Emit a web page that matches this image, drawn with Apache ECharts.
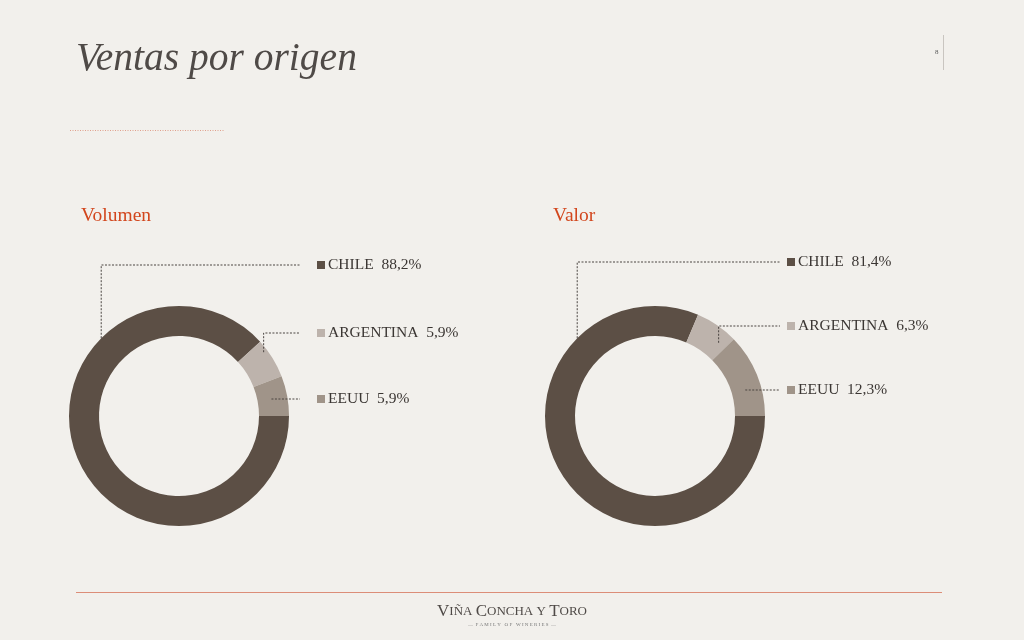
<!DOCTYPE html>
<html>
<head>
<meta charset="utf-8">
<script src="https://cdn.jsdelivr.net/npm/echarts@6/dist/echarts.min.js"></script>
<style>
html,body{margin:0;padding:0;background:#f2f0ec;}
#c{width:1024px;height:640px;}
</style>
</head>
<body>
<div id="c"></div>
<script>
// ---- data ----
const categories = ['CHILE', 'ARGENTINA', 'EEUU'];
const volumenValues = [88.2, 5.9, 5.9];
const valorValues = [81.4, 6.3, 12.3];
const panelTitles = ['Volumen', 'Valor'];
const sliceColors = ['#5c4f45', '#bdb3ac', '#a09489'];

// ---- layout (styles / positions) ----
const panels = [
  { center: [179, 416], labelX: 317, lineEnd: 300, labelY: [265, 333, 399], anchorAngle: [135, 37, 10.4], anchorR: [110, 106, 94], titleX: 81, values: volumenValues },
  { center: [655, 416], labelX: 787, lineEnd: 780, labelY: [262, 326, 390], anchorAngle: [135, 49, 16.1], anchorR: [110, 97, 94], titleX: 553, values: valorValues }
];
const R_IN = 80, R_OUT = 110;
const SERIF = '"Liberation Serif", "DejaVu Serif", serif';

function fmt(v) { return v.toFixed(1).replace('.', ',') + '%'; }

const rich = { n: { fontFamily: SERIF, fontSize: 15.5, color: '#3b3633', padding: [0, 0, 0, 3] } };
sliceColors.forEach((c, i) => { rich['sq' + i] = { width: 8, height: 8, backgroundColor: c }; });

const series = [];
panels.forEach((p, si) => {
  const base = {
    type: 'pie',
    center: p.center,
    radius: [R_IN, R_OUT],
    startAngle: 0,
    clockwise: true,
    avoidLabelOverlap: false,
    silent: true,
    emphasis: { disabled: true }
  };
  // donut ring
  series.push(Object.assign({}, base, {
    z: 2,
    data: categories.map((name, i) => ({ name: name, value: p.values[i], itemStyle: { color: sliceColors[i] } })),
    label: { show: false },
    labelLine: { show: false }
  }));
  // overlay carrying labels and leader lines (drawn above the ring)
  series.push(Object.assign({}, base, {
    z: 5,
    data: categories.map((name, i) => ({ name: name, value: p.values[i], itemStyle: { color: 'rgba(0,0,0,0)' } })),
    label: {
      show: true,
      position: 'outside',
      formatter: (d) => '{sq' + d.dataIndex + '|}{n|' + d.name + '  ' + fmt(d.value) + '}',
      rich: rich
    },
    labelLine: { show: true, smooth: false, lineStyle: { color: '#4a4440', width: 1, type: [2, 1.5] } },
    labelLayout: (params) => {
      const i = params.dataIndex;
      const ang = p.anchorAngle[i] * Math.PI / 180;
      const r = p.anchorR[i];
      const ax = p.center[0] + r * Math.cos(ang);
      const ay = p.center[1] - r * Math.sin(ang);
      const ly = p.labelY[i];
      return {
        x: p.labelX, y: ly, align: 'left', verticalAlign: 'middle',
        labelLinePoints: [[ax, ay], [ax, ly], [p.lineEnd, ly]]
      };
    }
  }));
});

const graphic = [
  { type: 'text', left: 76, top: 40, style: { text: 'Ventas por origen', font: 'italic 39.5px ' + SERIF, fill: '#4f4a47' } },
  { type: 'line', shape: { x1: 70, y1: 130.5, x2: 225, y2: 130.5 }, style: { stroke: '#e0a08c', lineWidth: 1, lineDash: [1, 1.5] } },
  { type: 'line', shape: { x1: 943.5, y1: 35, x2: 943.5, y2: 70 }, style: { stroke: '#c9c5c0', lineWidth: 1 } },
  { type: 'text', left: 935, top: 49, style: { text: '8', font: '7px ' + SERIF, fill: '#555' } },
  { type: 'line', shape: { x1: 76, y1: 592.5, x2: 942, y2: 592.5 }, style: { stroke: '#dc8d78', lineWidth: 1 } },
  { type: 'text', left: 'center', top: 603, style: {
      text: '{b|V}{s|IÑA }{b|C}{s|ONCHA Y }{b|T}{s|ORO}',
      rich: { b: { fontFamily: SERIF, fontSize: 17, fill: '#4f4a47' }, s: { fontFamily: SERIF, fontSize: 13, fill: '#4f4a47' } } } },
  { type: 'text', left: 'center', top: 622, style: { text: '—  F A M I L Y   O F   W I N E R I E S  —', font: '5px ' + SERIF, fill: '#777' } }
];
panels.forEach((p, si) => {
  graphic.push({ type: 'text', left: p.titleX, top: 206, style: { text: panelTitles[si], font: '19.5px ' + SERIF, fill: '#d2461d' } });
});

const chart = echarts.init(document.getElementById('c'));
chart.setOption({
  backgroundColor: '#f2f0ec',
  animation: false,
  graphic: graphic,
  series: series
});
</script>
</body>
</html>
